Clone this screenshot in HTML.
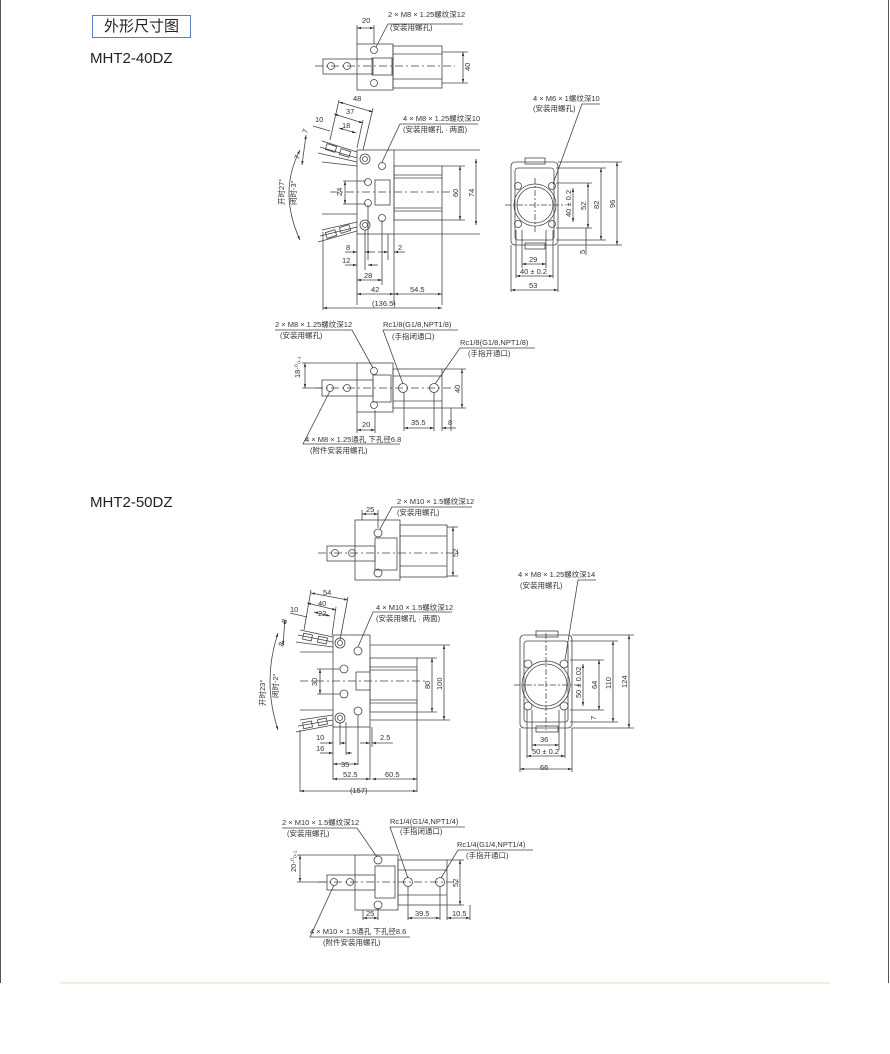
<!DOCTYPE html>
<html><head><meta charset="utf-8"><style>
html,body{margin:0;padding:0;background:#fff;}
body{width:890px;height:1054px;position:relative;overflow:hidden;font-family:"Liberation Sans","Noto Sans CJK SC",sans-serif;}
.frame{position:absolute;left:0;top:0;width:887px;height:983px;border-left:1px solid #555;border-right:1px solid #555;}
.title{position:absolute;left:92px;top:15px;width:97px;height:21px;border:1px solid #5a7fc0;font-size:15px;line-height:21px;text-align:center;color:#222;}
.m{position:absolute;left:90px;font-size:15px;color:#222;}
svg{position:absolute;left:0;top:0;}
svg text{font-family:"Liberation Sans","Noto Sans CJK SC",sans-serif;font-size:7.5px;fill:#333;}
</style></head><body>
<div class="frame"></div>
<div class="title">外形尺寸图</div>
<div class="m" style="top:50px">MHT2-40DZ</div>
<div class="m" style="top:494px">MHT2-50DZ</div>
<svg width="890" height="1054" viewBox="0 0 890 1054">
<defs><marker id="a" markerWidth="6" markerHeight="6" refX="5" refY="3" orient="auto-start-reverse"><path d="M0,1.5 L5,3 L0,4.5z" fill="#333"/></marker></defs>
<g stroke="#444" stroke-width="0.8" fill="none">
<!-- ===== 40 top view ===== -->
<rect x="357" y="44" width="36" height="46"/><rect x="393" y="46" width="49" height="42"/>
<rect x="323" y="59" width="50" height="15"/><rect x="372" y="58" width="20" height="17"/>
<line x1="393" y1="54" x2="442" y2="54"/><line x1="393" y1="79" x2="442" y2="79"/>
<line x1="315" y1="66" x2="455" y2="66" stroke-dasharray="8 3 2 3"/>
<circle cx="331" cy="66" r="3.5"/><circle cx="347" cy="66" r="3.5"/><circle cx="374" cy="50" r="3.5"/><circle cx="374" cy="83" r="3.5"/>
<line x1="357" y1="25" x2="357" y2="44"/><line x1="374" y1="25" x2="374" y2="44"/>
<line x1="357" y1="28" x2="374" y2="28" marker-start="url(#a)" marker-end="url(#a)"/>
<line x1="442" y1="52" x2="468" y2="52"/><line x1="442" y1="83" x2="468" y2="83"/>
<line x1="463" y1="52" x2="463" y2="83" marker-start="url(#a)" marker-end="url(#a)"/>
<path d="M376,47 L388,24 L463,24"/>
<!-- ===== 40 side view ===== -->
<rect x="357" y="150" width="37" height="84"/><rect x="394" y="166" width="48" height="54"/>
<rect x="375" y="180" width="15" height="25"/>
<line x1="394" y1="178" x2="442" y2="178"/><line x1="394" y1="208" x2="442" y2="208"/>
<line x1="394" y1="175" x2="442" y2="175"/><line x1="394" y1="211" x2="442" y2="211"/>
<line x1="330" y1="192" x2="450" y2="192" stroke-dasharray="8 3 2 3"/>
<circle cx="365" cy="159" r="5"/><circle cx="365" cy="159" r="2.5"/><circle cx="365" cy="225" r="5"/><circle cx="365" cy="225" r="2.5"/>
<circle cx="382" cy="166" r="3.5"/><circle cx="382" cy="218" r="3.5"/><circle cx="368" cy="182" r="3.5"/><circle cx="368" cy="203" r="3.5"/>
<path d="M357,152 L322,141 M357,158 L320,147 M357,162 L318,153 M357,166 L322,162"/>
<path d="M357,222 L322,230 M357,227 L320,236 M357,231 L318,242 M357,214 L322,214"/>
<rect x="326" y="145" width="10" height="6" transform="rotate(18 331 148)"/><rect x="340" y="150" width="10" height="6" transform="rotate(18 345 153)"/>
<rect x="326" y="231" width="10" height="6" transform="rotate(-18 331 234)"/><rect x="340" y="226" width="10" height="6" transform="rotate(-18 345 229)"/>
<path d="M300,150 Q278,192 300,240" marker-start="url(#a)" marker-end="url(#a)"/>
<line x1="339" y1="102" x2="373" y2="112" marker-start="url(#a)" marker-end="url(#a)"/>
<line x1="334" y1="114" x2="363" y2="123" marker-start="url(#a)" marker-end="url(#a)"/>
<line x1="339" y1="128" x2="356" y2="133" marker-start="url(#a)" marker-end="url(#a)"/>
<line x1="313" y1="126" x2="330" y2="131"/>
<line x1="339" y1="100" x2="330" y2="140"/><line x1="373" y1="108" x2="363" y2="150"/><line x1="363" y1="120" x2="357" y2="148"/>
<line x1="306" y1="135" x2="302" y2="165" marker-start="url(#a)" marker-end="url(#a)"/>
<line x1="394" y1="150" x2="480" y2="150"/><line x1="442" y1="166" x2="465" y2="166"/><line x1="442" y1="220" x2="465" y2="220"/><line x1="394" y1="234" x2="480" y2="234"/>
<line x1="460" y1="166" x2="460" y2="220" marker-start="url(#a)" marker-end="url(#a)"/>
<line x1="476" y1="159" x2="476" y2="225" marker-start="url(#a)" marker-end="url(#a)"/>
<line x1="345" y1="181" x2="345" y2="204" marker-start="url(#a)" marker-end="url(#a)"/>
<line x1="343" y1="181" x2="366" y2="181"/><line x1="343" y1="204" x2="366" y2="204"/>
<line x1="357" y1="234" x2="357" y2="305"/><line x1="365" y1="230" x2="365" y2="270"/><line x1="368" y1="205" x2="368" y2="260"/><line x1="382" y1="220" x2="382" y2="285"/><line x1="388" y1="234" x2="388" y2="260"/><line x1="394" y1="234" x2="394" y2="305"/><line x1="442" y1="220" x2="442" y2="305"/><line x1="323" y1="232" x2="323" y2="310"/>
<line x1="345" y1="252" x2="357" y2="252" marker-end="url(#a)"/><line x1="365" y1="252" x2="375" y2="252" marker-start="url(#a)"/>
<line x1="345" y1="265" x2="357" y2="265" marker-end="url(#a)"/><line x1="368" y1="265" x2="378" y2="265" marker-start="url(#a)"/>
<line x1="378" y1="252" x2="388" y2="252" marker-end="url(#a)"/><line x1="394" y1="252" x2="405" y2="252" marker-start="url(#a)"/>
<line x1="357" y1="280" x2="382" y2="280" marker-start="url(#a)" marker-end="url(#a)"/>
<line x1="357" y1="294" x2="394" y2="294" marker-start="url(#a)" marker-end="url(#a)"/>
<line x1="394" y1="294" x2="442" y2="294" marker-start="url(#a)" marker-end="url(#a)"/>
<line x1="323" y1="308" x2="442" y2="308" marker-start="url(#a)" marker-end="url(#a)"/>
<path d="M382,162 L400,124 L478,124"/>
<!-- ===== 40 end view ===== -->
<rect x="511" y="162" width="47" height="83" rx="4"/><rect x="515" y="168" width="39" height="72" rx="3"/>
<rect x="525" y="158" width="20" height="6"/><rect x="525" y="243" width="20" height="6"/>
<circle cx="535" cy="205" r="18"/><circle cx="535" cy="205" r="21"/>
<circle cx="518" cy="186" r="3.5"/><circle cx="552" cy="186" r="3.5"/><circle cx="518" cy="224" r="3.5"/><circle cx="552" cy="224" r="3.5"/>
<line x1="505" y1="205" x2="566" y2="205" stroke-dasharray="6 2 2 2"/><line x1="535" y1="178" x2="535" y2="232" stroke-dasharray="6 2 2 2"/>
<line x1="558" y1="162" x2="622" y2="162"/><line x1="558" y1="245" x2="622" y2="245"/><line x1="556" y1="168" x2="606" y2="168"/><line x1="556" y1="240" x2="606" y2="240"/><line x1="556" y1="183" x2="592" y2="183"/><line x1="556" y1="228" x2="592" y2="228"/>
<line x1="617" y1="162" x2="617" y2="245" marker-start="url(#a)" marker-end="url(#a)"/>
<line x1="601" y1="168" x2="601" y2="240" marker-start="url(#a)" marker-end="url(#a)"/>
<line x1="588" y1="183" x2="588" y2="228" marker-start="url(#a)" marker-end="url(#a)"/>
<line x1="573" y1="188" x2="573" y2="222" marker-start="url(#a)" marker-end="url(#a)"/>
<line x1="586" y1="228" x2="586" y2="255"/>
<line x1="511" y1="245" x2="511" y2="292"/><line x1="558" y1="245" x2="558" y2="292"/><line x1="516" y1="230" x2="516" y2="278"/><line x1="553" y1="230" x2="553" y2="278"/><line x1="522" y1="230" x2="522" y2="268"/><line x1="546" y1="230" x2="546" y2="268"/>
<line x1="522" y1="264" x2="546" y2="264" marker-start="url(#a)" marker-end="url(#a)"/>
<line x1="516" y1="276" x2="553" y2="276" marker-start="url(#a)" marker-end="url(#a)"/>
<line x1="511" y1="290" x2="558" y2="290" marker-start="url(#a)" marker-end="url(#a)"/>
<path d="M553,184 L582,104 L600,104"/>
<!-- ===== 40 bottom view ===== -->
<rect x="357" y="363" width="36" height="49"/><rect x="393" y="369" width="49" height="39"/>
<rect x="322" y="380" width="51" height="16"/><rect x="373" y="375" width="18" height="27"/>
<line x1="393" y1="376" x2="442" y2="376"/><line x1="393" y1="401" x2="442" y2="401"/>
<line x1="315" y1="388" x2="455" y2="388" stroke-dasharray="8 3 2 3"/>
<circle cx="330" cy="388" r="3.5"/><circle cx="347" cy="388" r="3.5"/><circle cx="374" cy="371" r="3.5"/><circle cx="374" cy="405" r="3.5"/><circle cx="403" cy="388" r="4.5"/><circle cx="434" cy="388" r="4.5"/>
<line x1="442" y1="369" x2="466" y2="369"/><line x1="442" y1="408" x2="466" y2="408"/>
<line x1="462" y1="369" x2="462" y2="408" marker-start="url(#a)" marker-end="url(#a)"/>
<line x1="305" y1="363" x2="305" y2="388" marker-start="url(#a)" marker-end="url(#a)"/>
<line x1="302" y1="363" x2="357" y2="363"/><line x1="302" y1="388" x2="322" y2="388"/>
<line x1="357" y1="412" x2="357" y2="433"/><line x1="375" y1="410" x2="375" y2="433"/><line x1="404" y1="392" x2="404" y2="431"/><line x1="434" y1="392" x2="434" y2="431"/><line x1="442" y1="408" x2="442" y2="431"/><line x1="451" y1="408" x2="451" y2="431"/>
<line x1="357" y1="430" x2="375" y2="430" marker-start="url(#a)" marker-end="url(#a)"/>
<line x1="404" y1="428" x2="434" y2="428" marker-start="url(#a)" marker-end="url(#a)"/>
<line x1="442" y1="428" x2="456" y2="428" marker-start="url(#a)"/>
<path d="M373,368 L352,330 L275,330"/><path d="M403,384 L383,330 L458,330"/><path d="M435,384 L460,348 L535,348"/><path d="M330,391 L303,444 L400,444"/>
<!-- ===== 50 top view ===== -->
<rect x="355" y="520" width="45" height="60"/><rect x="400" y="525" width="47" height="52"/>
<rect x="327" y="546" width="48" height="15"/><rect x="375" y="538" width="22" height="32"/>
<line x1="400" y1="536" x2="447" y2="536"/><line x1="400" y1="566" x2="447" y2="566"/>
<line x1="318" y1="553" x2="460" y2="553" stroke-dasharray="8 3 2 3"/>
<circle cx="335" cy="553" r="3.5"/><circle cx="352" cy="553" r="3.5"/><circle cx="378" cy="533" r="4"/><circle cx="378" cy="573" r="4"/>
<line x1="362" y1="510" x2="362" y2="520"/><line x1="378" y1="510" x2="378" y2="528"/>
<line x1="362" y1="514" x2="378" y2="514" marker-start="url(#a)" marker-end="url(#a)"/>
<line x1="447" y1="527" x2="458" y2="527"/><line x1="447" y1="576" x2="458" y2="576"/>
<line x1="453" y1="527" x2="453" y2="576" marker-start="url(#a)" marker-end="url(#a)"/>
<path d="M380,529 L392,507 L472,507"/>
<!-- ===== 50 side view ===== -->
<rect x="333" y="635" width="37" height="92"/><rect x="370" y="658" width="47" height="54"/>
<rect x="356" y="672" width="14" height="18"/>
<line x1="370" y1="670" x2="417" y2="670"/><line x1="370" y1="700" x2="417" y2="700"/><line x1="370" y1="667" x2="417" y2="667"/><line x1="370" y1="703" x2="417" y2="703"/>
<line x1="300" y1="681" x2="425" y2="681" stroke-dasharray="8 3 2 3"/>
<circle cx="340" cy="643" r="5"/><circle cx="340" cy="643" r="2.5"/><circle cx="340" cy="718" r="5"/><circle cx="340" cy="718" r="2.5"/>
<circle cx="358" cy="651" r="4"/><circle cx="358" cy="711" r="4"/><circle cx="344" cy="669" r="4"/><circle cx="344" cy="694" r="4"/>
<path d="M333,637 L300,630 M333,642 L298,635 M333,647 L296,642 M333,652 L300,652"/>
<path d="M333,715 L300,720 M333,720 L298,726 M333,725 L296,732 M333,710 L300,710"/>
<rect x="303" y="634" width="9" height="6" transform="rotate(12 307 637)"/><rect x="318" y="637" width="9" height="6" transform="rotate(12 322 640)"/>
<rect x="303" y="722" width="9" height="6" transform="rotate(-12 307 725)"/><rect x="318" y="719" width="9" height="6" transform="rotate(-12 322 722)"/>
<path d="M278,633 Q262,681 278,730" marker-start="url(#a)" marker-end="url(#a)"/>
<line x1="311" y1="593" x2="348" y2="600" marker-start="url(#a)" marker-end="url(#a)"/>
<line x1="307" y1="603" x2="336" y2="610" marker-start="url(#a)" marker-end="url(#a)"/>
<line x1="314" y1="612" x2="330" y2="616" marker-start="url(#a)" marker-end="url(#a)"/>
<line x1="290" y1="613" x2="307" y2="617"/>
<line x1="311" y1="590" x2="304" y2="630"/><line x1="348" y1="597" x2="340" y2="640"/><line x1="336" y1="607" x2="332" y2="635"/>
<line x1="285" y1="620" x2="283" y2="645" marker-start="url(#a)" marker-end="url(#a)"/>
<line x1="370" y1="645" x2="450" y2="645"/><line x1="417" y1="658" x2="437" y2="658"/><line x1="417" y1="712" x2="437" y2="712"/><line x1="370" y1="720" x2="450" y2="720"/>
<line x1="432" y1="658" x2="432" y2="712" marker-start="url(#a)" marker-end="url(#a)"/>
<line x1="444" y1="645" x2="444" y2="720" marker-start="url(#a)" marker-end="url(#a)"/>
<line x1="320" y1="669" x2="320" y2="694" marker-start="url(#a)" marker-end="url(#a)"/>
<line x1="317" y1="669" x2="340" y2="669"/><line x1="317" y1="694" x2="340" y2="694"/>
<line x1="300" y1="730" x2="300" y2="792"/><line x1="333" y1="727" x2="333" y2="780"/><line x1="340" y1="722" x2="340" y2="745"/><line x1="346" y1="722" x2="346" y2="755"/><line x1="358" y1="715" x2="358" y2="765"/><line x1="370" y1="727" x2="370" y2="780"/><line x1="372" y1="727" x2="372" y2="747"/><line x1="417" y1="712" x2="417" y2="792"/>
<line x1="320" y1="743" x2="333" y2="743" marker-end="url(#a)"/><line x1="340" y1="743" x2="346" y2="743" marker-start="url(#a)"/>
<line x1="320" y1="753" x2="333" y2="753" marker-end="url(#a)"/><line x1="346" y1="753" x2="352" y2="753" marker-start="url(#a)"/>
<line x1="360" y1="743" x2="370" y2="743" marker-end="url(#a)"/><line x1="372" y1="743" x2="393" y2="743" marker-start="url(#a)"/>
<line x1="333" y1="764" x2="358" y2="764" marker-start="url(#a)" marker-end="url(#a)"/>
<line x1="333" y1="779" x2="370" y2="779" marker-start="url(#a)" marker-end="url(#a)"/>
<line x1="372" y1="779" x2="417" y2="779" marker-start="url(#a)" marker-end="url(#a)"/>
<line x1="300" y1="791" x2="417" y2="791" marker-start="url(#a)" marker-end="url(#a)"/>
<path d="M358,647 L373,612 L452,612"/>
<!-- ===== 50 end view ===== -->
<rect x="520" y="635" width="52" height="93" rx="4"/><rect x="524" y="641" width="44" height="81" rx="3"/>
<rect x="536" y="631" width="22" height="6"/><rect x="536" y="726" width="22" height="6"/>
<circle cx="546" cy="685" r="21"/><circle cx="546" cy="685" r="24"/>
<circle cx="528" cy="664" r="4"/><circle cx="564" cy="664" r="4"/><circle cx="528" cy="706" r="4"/><circle cx="564" cy="706" r="4"/>
<line x1="514" y1="685" x2="580" y2="685" stroke-dasharray="6 2 2 2"/><line x1="546" y1="633" x2="546" y2="730" stroke-dasharray="6 2 2 2"/>
<line x1="572" y1="635" x2="634" y2="635"/><line x1="572" y1="728" x2="634" y2="728"/><line x1="570" y1="641" x2="618" y2="641"/><line x1="570" y1="722" x2="618" y2="722"/><line x1="570" y1="660" x2="604" y2="660"/><line x1="570" y1="710" x2="604" y2="710"/>
<line x1="629" y1="635" x2="629" y2="728" marker-start="url(#a)" marker-end="url(#a)"/>
<line x1="613" y1="641" x2="613" y2="722" marker-start="url(#a)" marker-end="url(#a)"/>
<line x1="599" y1="660" x2="599" y2="710" marker-start="url(#a)" marker-end="url(#a)"/>
<line x1="583" y1="664" x2="583" y2="706" marker-start="url(#a)" marker-end="url(#a)"/>
<line x1="520" y1="728" x2="520" y2="772"/><line x1="572" y1="728" x2="572" y2="772"/><line x1="527" y1="710" x2="527" y2="758"/><line x1="565" y1="710" x2="565" y2="758"/><line x1="532" y1="710" x2="532" y2="750"/><line x1="559" y1="710" x2="559" y2="750"/>
<line x1="532" y1="745" x2="559" y2="745" marker-start="url(#a)" marker-end="url(#a)"/>
<line x1="527" y1="756" x2="565" y2="756" marker-start="url(#a)" marker-end="url(#a)"/>
<line x1="520" y1="769" x2="572" y2="769" marker-start="url(#a)" marker-end="url(#a)"/>
<path d="M565,660 L578,580 L596,580"/>
<!-- ===== 50 bottom view ===== -->
<rect x="355" y="855" width="43" height="55"/><rect x="398" y="860" width="49" height="45"/>
<rect x="327" y="875" width="48" height="15"/><rect x="375" y="866" width="20" height="32"/>
<line x1="398" y1="870" x2="447" y2="870"/><line x1="398" y1="895" x2="447" y2="895"/>
<line x1="318" y1="882" x2="460" y2="882" stroke-dasharray="8 3 2 3"/>
<circle cx="334" cy="882" r="3.5"/><circle cx="350" cy="882" r="3.5"/><circle cx="378" cy="860" r="4"/><circle cx="378" cy="905" r="4"/><circle cx="408" cy="882" r="4.5"/><circle cx="440" cy="882" r="4.5"/>
<line x1="447" y1="860" x2="464" y2="860"/><line x1="447" y1="905" x2="464" y2="905"/>
<line x1="460" y1="860" x2="460" y2="905" marker-start="url(#a)" marker-end="url(#a)"/>
<line x1="300" y1="855" x2="300" y2="882" marker-start="url(#a)" marker-end="url(#a)"/>
<line x1="297" y1="855" x2="355" y2="855"/><line x1="297" y1="882" x2="327" y2="882"/>
<line x1="363" y1="910" x2="363" y2="920"/><line x1="378" y1="908" x2="378" y2="920"/><line x1="408" y1="886" x2="408" y2="920"/><line x1="440" y1="886" x2="440" y2="920"/><line x1="447" y1="905" x2="447" y2="920"/><line x1="470" y1="905" x2="470" y2="920"/>
<line x1="363" y1="918" x2="378" y2="918" marker-start="url(#a)" marker-end="url(#a)"/>
<line x1="408" y1="918" x2="440" y2="918" marker-start="url(#a)" marker-end="url(#a)"/>
<line x1="447" y1="918" x2="470" y2="918" marker-start="url(#a)" marker-end="url(#a)"/>
<path d="M377,857 L357,828 L282,828"/><path d="M408,878 L390,827 L465,827"/><path d="M441,878 L458,850 L533,850"/><path d="M334,885 L310,937 L410,937"/>
</g>
<g stroke="#f3f0d8" stroke-width="2"><line x1="60" y1="983" x2="830" y2="983"/></g>
<!-- texts -->
<text x="362" y="23">20</text><text x="388" y="17">2 × M8 × 1.25螺纹深12</text><text x="390" y="30">(安装用螺孔)</text>
<text x="470" y="71" transform="rotate(-90 470 71)">40</text>
<text x="353" y="101">48</text><text x="346" y="114">37</text><text x="315" y="122">10</text><text x="342" y="128">18</text>
<text x="307" y="134" transform="rotate(-70 307 134)">7</text><text x="299" y="160" transform="rotate(-70 299 160)">7</text>
<text x="284" y="205" transform="rotate(-90 284 205)">开时27°</text><text x="296" y="205" transform="rotate(-90 296 205)">闭时-3°</text>
<text x="403" y="121">4 × M8 × 1.25螺纹深10</text><text x="403" y="132">(安装用螺孔 · 两面)</text>
<text x="342" y="196" transform="rotate(-90 342 196)">24</text>
<text x="458" y="197" transform="rotate(-90 458 197)">60</text><text x="474" y="197" transform="rotate(-90 474 197)">74</text>
<text x="346" y="250">8</text><text x="342" y="263">12</text><text x="398" y="250">2</text><text x="364" y="278">28</text><text x="371" y="292">42</text><text x="410" y="292">54.5</text><text x="372" y="306">(136.5)</text>
<text x="533" y="101">4 × M6 × 1螺纹深10</text><text x="533" y="111">(安装用螺孔)</text>
<text x="571" y="217" transform="rotate(-90 571 217)">40 ± 0.2</text><text x="586" y="210" transform="rotate(-90 586 210)">52</text><text x="599" y="209" transform="rotate(-90 599 209)">82</text><text x="615" y="208" transform="rotate(-90 615 208)">96</text><text x="585" y="254" transform="rotate(-90 585 254)">5</text>
<text x="529" y="262">29</text><text x="520" y="274">40 ± 0.2</text><text x="529" y="288">53</text>
<text x="275" y="327">2 × M8 × 1.25螺纹深12</text><text x="280" y="338">(安装用螺孔)</text>
<text x="383" y="327">Rc1/8(G1/8,NPT1/8)</text><text x="392" y="339">(手指闭通口)</text>
<text x="460" y="345">Rc1/8(G1/8,NPT1/8)</text><text x="468" y="356">(手指开通口)</text>
<text x="300" y="378" transform="rotate(-90 300 378)">18-⁰₀.₁</text><text x="460" y="393" transform="rotate(-90 460 393)">40</text>
<text x="362" y="427">20</text><text x="411" y="425">35.5</text><text x="448" y="425">8</text>
<text x="305" y="442">4 × M8 × 1.25通孔 下孔径6.8</text><text x="310" y="453">(附件安装用螺孔)</text>
<text x="366" y="512">25</text><text x="397" y="504">2 × M10 × 1.5螺纹深12</text><text x="397" y="515">(安装用螺孔)</text>
<text x="458" y="557" transform="rotate(-90 458 557)">52</text>
<text x="323" y="595">54</text><text x="318" y="606">40</text><text x="290" y="612">10</text><text x="318" y="616">22</text>
<text x="286" y="624" transform="rotate(-70 286 624)">8</text><text x="283" y="647" transform="rotate(-70 283 647)">8</text>
<text x="265" y="706" transform="rotate(-90 265 706)">开时23°</text><text x="278" y="698" transform="rotate(-90 278 698)">闭时-2°</text>
<text x="376" y="610">4 × M10 × 1.5螺纹深12</text><text x="376" y="621">(安装用螺孔 · 两面)</text>
<text x="317" y="686" transform="rotate(-90 317 686)">30</text>
<text x="430" y="689" transform="rotate(-90 430 689)">80</text><text x="442" y="690" transform="rotate(-90 442 690)">100</text>
<text x="316" y="740">10</text><text x="316" y="751">16</text><text x="380" y="740">2.5</text><text x="341" y="767">35</text><text x="343" y="777">52.5</text><text x="385" y="777">60.5</text><text x="350" y="793">(157)</text>
<text x="518" y="577">4 × M8 × 1.25螺纹深14</text><text x="520" y="588">(安装用螺孔)</text>
<text x="581" y="698" transform="rotate(-90 581 698)">50 ± 0.02</text><text x="597" y="689" transform="rotate(-90 597 689)">64</text><text x="611" y="689" transform="rotate(-90 611 689)">110</text><text x="627" y="688" transform="rotate(-90 627 688)">124</text><text x="596" y="720" transform="rotate(-90 596 720)">7</text>
<text x="540" y="742">36</text><text x="532" y="754">50 ± 0.2</text><text x="540" y="770">66</text>
<text x="282" y="825">2 × M10 × 1.5螺纹深12</text><text x="287" y="836">(安装用螺孔)</text>
<text x="390" y="824">Rc1/4(G1/4,NPT1/4)</text><text x="400" y="834">(手指闭通口)</text>
<text x="457" y="847">Rc1/4(G1/4,NPT1/4)</text><text x="466" y="858">(手指开通口)</text>
<text x="296" y="872" transform="rotate(-90 296 872)">20-⁰₀.₁</text><text x="458" y="887" transform="rotate(-90 458 887)">52</text>
<text x="366" y="916">25</text><text x="415" y="916">39.5</text><text x="452" y="916">10.5</text>
<text x="310" y="934">4 × M10 × 1.5通孔 下孔径8.6</text><text x="323" y="945">(附件安装用螺孔)</text>
</svg>
</body></html>
